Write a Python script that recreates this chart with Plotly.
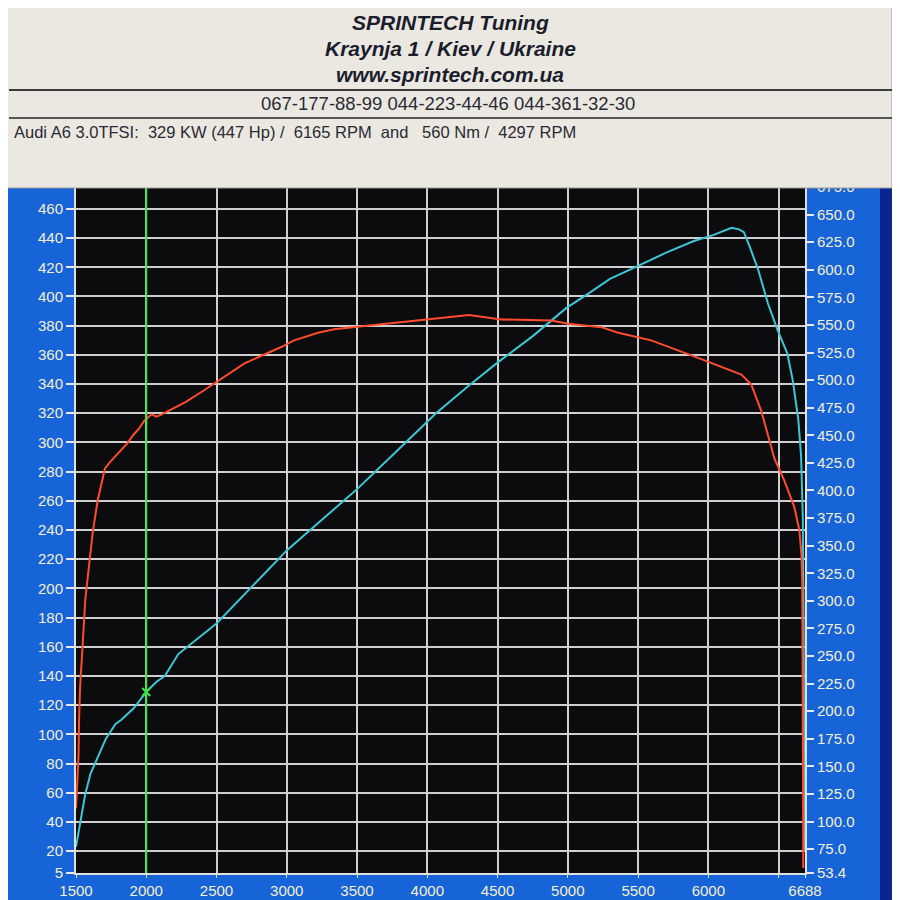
import plotly.graph_objects as go

rpm_power = [1500, 1530, 1566, 1603, 1640, 1670, 1713, 1780, 1823, 1912, 2000, 2073, 2132,
             2228, 2500, 2750, 3000, 3250, 3500, 3750, 4000, 4062, 4297, 4504, 4753, 4988,
             5146, 5300, 5500, 5700, 5897, 6034, 6165, 6219, 6253, 6295, 6356, 6425, 6493,
             6562, 6600, 6640, 6660, 6672, 6678, 6681, 6684]
power_hp = [23, 40, 59, 73, 81, 88, 97, 107, 110, 118, 129, 136, 140,
            155, 176, 201, 226, 247, 268, 291, 314, 320, 339, 355, 373, 392,
            402, 412, 421, 430, 438, 442, 447, 446, 444, 434, 418, 395, 377,
            361, 343, 316, 291, 250, 180, 100, 20]

rpm_torque = [1500, 1510, 1518, 1522, 1529, 1544, 1559, 1566, 1618, 1654, 1706, 1743, 1860,
              1912, 1948, 1985, 2037, 2073, 2110, 2279, 2390, 2696, 2960, 3052, 3223, 3337,
              3622, 4006, 4297, 4526, 4882, 5003, 5238, 5359, 5594, 5950, 6092, 6235, 6306,
              6377, 6470, 6541, 6612, 6648, 6662, 6668, 6670, 6672, 6674, 6676]
torque_nm = [112, 135, 160, 193, 222, 253, 283, 301, 361, 391, 420, 426, 442,
             451, 456, 463, 469, 467, 469, 480, 489, 515, 530, 536, 543, 546,
             550, 555, 559, 555, 554, 551, 548, 543, 536, 519, 512, 505, 496,
             472, 429, 409, 385, 364, 343, 319, 274, 200, 120, 58]

cursor_rpm = 2000
cursor_hp = 129

x_tickvals = [1500, 2000, 2500, 3000, 3500, 4000, 4500, 5000, 5500, 6000, 6500, 6688]
x_ticktext = ["1500", "2000", "2500", "3000", "3500", "4000", "4500", "5000", "5500", "6000", "", "6688"]
left_tickvals = [5, 20, 40, 60, 80, 100, 120, 140, 160, 180, 200, 220, 240, 260, 280, 300,
                 320, 340, 360, 380, 400, 420, 440, 460]
right_tickvals = [53.4, 75, 100, 125, 150, 175, 200, 225, 250, 275, 300, 325, 350, 375, 400,
                  425, 450, 475, 500, 525, 550, 575, 600, 625, 650, 675]
right_ticktext = ["%.1f" % v for v in right_tickvals]

header_lines = ["SPRINTECH Tuning", "Kraynja 1 / Kiev / Ukraine", "www.sprintech.com.ua"]
phone_line = "067-177-88-99 044-223-44-46 044-361-32-30"
result_line = "Audi A6 3.0TFSI:  329 KW (447 Hp) /  6165 RPM  and   560 Nm /  4297 RPM"

# ---------------- geometry (page body has an 8px margin) ----------------
OFF = 8
W, H = 900 - OFF, 900 - OFF
L, T = 76 - OFF, 187 - OFF
R = W - (805 - OFF)
B = H - (873 - OFF)
PW, PH = W - L - R, H - T - B


def px(x):  # screen pixel -> paper x
    return (x - OFF - L) / PW


def py(y):  # screen pixel -> paper y
    return (H - B - (y - OFF)) / PH


TICK_COL = "#f4efcf"
FONT = "Liberation Sans, Arial, sans-serif"

fig = go.Figure()

fig.add_trace(go.Scatter(x=rpm_power, y=power_hp, mode="lines",
                         line=dict(color="#3cc6d6", width=2), yaxis="y", name="Power"))
fig.add_trace(go.Scatter(x=rpm_torque, y=torque_nm, mode="lines",
                         line=dict(color="#ff4b2e", width=2), yaxis="y2", name="Torque"))
fig.add_trace(go.Scatter(x=[cursor_rpm], y=[cursor_hp], mode="markers",
                         marker=dict(symbol="x-thin-open", size=8, color="#3ee04a",
                                     line=dict(color="#3ee04a", width=2)),
                         yaxis="y", name="cursor"))

shapes = [
    # green cursor line
    dict(type="line", xref="x", yref="paper", x0=cursor_rpm, x1=cursor_rpm, y0=0, y1=1,
         line=dict(color="#3ee04a", width=2), layer="above"),
    # far right dark strip
    dict(type="rect", xref="paper", yref="paper", x0=px(880), x1=px(905), y0=py(905), y1=py(-5),
         fillcolor="#0b2590", line=dict(width=0), layer="below"),
    # header panel
    dict(type="rect", xref="paper", yref="paper", x0=px(7), x1=px(892), y0=py(188), y1=py(-5),
         fillcolor="#eae8e1", line=dict(color="#9a9a9a", width=1), layer="above"),
    dict(type="line", xref="paper", yref="paper", x0=px(9), x1=px(892), y0=py(90), y1=py(90),
         line=dict(color="#3a3a3a", width=2), layer="above"),
    dict(type="line", xref="paper", yref="paper", x0=px(9), x1=px(892), y0=py(118), y1=py(118),
         line=dict(color="#555555", width=2), layer="above"),
]

annotations = []
for i, txt in enumerate(header_lines):
    annotations.append(dict(text="<b><i>%s</i></b>" % txt, xref="paper", yref="paper",
                            x=px(450), y=py(22 + 26 * i), xanchor="center", yanchor="middle",
                            showarrow=False, font=dict(family=FONT, size=21, color="#1b1d2c")))
annotations.append(dict(text=phone_line, xref="paper", yref="paper", x=px(448), y=py(104),
                        xanchor="center", yanchor="middle", showarrow=False,
                        font=dict(family=FONT, size=18.5, color="#2a2a34")))
annotations.append(dict(text=result_line, xref="paper", yref="paper", x=px(12), y=py(132),
                        xanchor="left", yanchor="middle", showarrow=False,
                        font=dict(family=FONT, size=16.5, color="#2a2a34")))

fig.update_layout(
    width=W, height=H,
    margin=dict(l=L, r=R, t=T, b=B, pad=0, autoexpand=False),
    paper_bgcolor="#1764d8",
    plot_bgcolor="#0c0c0f",
    showlegend=False,
    shapes=shapes,
    annotations=annotations,
    font=dict(family=FONT, color=TICK_COL),
    xaxis=dict(range=[1500, 6688], tickvals=x_tickvals, ticktext=x_ticktext, automargin=False,
               showgrid=True, gridcolor="#cfcfcf", gridwidth=2,
               showline=True, linecolor="#e0e0e0", linewidth=2,
               ticks="outside", ticklen=3, tickcolor="#e0e0e0",
               tickfont=dict(size=15, color=TICK_COL), zeroline=False),
    yaxis=dict(range=[5, 475], tickvals=left_tickvals, automargin=False,
               showgrid=True, gridcolor="#cfcfcf", gridwidth=2,
               showline=True, linecolor="#e0e0e0", linewidth=2,
               ticks="outside", ticklen=8, tickwidth=2, tickcolor="#e8e8e8",
               tickfont=dict(size=15, color=TICK_COL), zeroline=False),
    yaxis2=dict(range=[53.4, 675], overlaying="y", side="right", automargin=False,
                tickvals=right_tickvals, ticktext=right_ticktext,
                showgrid=False, showline=True, linecolor="#e0e0e0", linewidth=2,
                ticks="outside", ticklen=7, tickwidth=2, tickcolor="#e8e8e8",
                tickfont=dict(size=15, color=TICK_COL), zeroline=False),
)

fig.write_html("out.html")
